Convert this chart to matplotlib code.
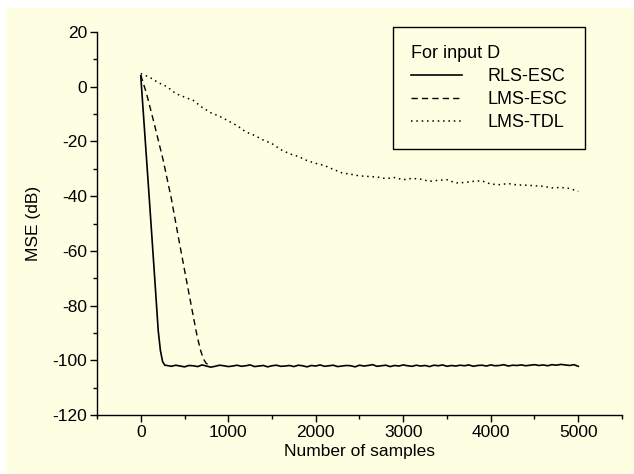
import numpy as np
import matplotlib
matplotlib.use("Agg")
import matplotlib.pyplot as plt
from matplotlib.patches import Rectangle
from matplotlib.ticker import MultipleLocator

plt.rcParams['font.family'] = ['Liberation Sans', 'DejaVu Sans']
plt.rcParams['axes.unicode_minus'] = False

# RLS-ESC: fast drop, then noisy floor
rls_x = [0, 50, 100, 150, 200, 225, 250, 275] + list(range(300, 5001, 50))
rls_db = [4.0, -19.0, -42.0, -65.5, -89.3, -96.5, -100.5, -101.8,
          -101.9, -102.2, -101.8, -102.1, -102.4, -101.9, -102.0, -102.3, -101.7, -102.1,
          -102.5, -102.2, -101.8, -102.0, -102.3, -102.1, -101.8, -102.2, -102.0, -101.7,
          -102.3, -102.1, -101.9, -102.4, -102.0, -101.8, -102.2, -102.1, -101.9, -102.3,
          -101.8, -102.0, -102.4, -101.9, -102.1, -101.7, -102.2, -102.0, -101.8, -102.3,
          -102.1, -101.9, -102.0, -102.4, -101.8, -102.1, -101.9, -101.6, -102.2, -102.0,
          -101.8, -102.3, -101.9, -102.1, -101.7, -102.0, -102.2, -101.8, -102.1, -101.9,
          -102.3, -101.8, -102.0, -101.7, -102.2, -101.9, -102.1, -101.8, -102.0, -101.7,
          -102.2, -101.9, -101.8, -102.1, -101.7, -102.0, -101.9, -101.6, -102.1, -101.8,
          -101.9, -101.7, -102.0, -101.8, -101.6, -101.9, -101.7, -102.0, -101.6, -101.8,
          -101.5, -101.7, -101.9, -101.6, -102.2]

# LMS-ESC
lms_esc_x = [0, 65, 150, 256, 350, 429, 506, 583, 640, 680, 716, 745, 780]
lms_esc_db = [4.3, -2.4, -13.0, -26.8, -41.0, -54.8, -68.0, -81.0, -90.5, -96.0,
              -99.5, -101.0, -101.9]

# LMS-TDL
tdl_x = list(range(0, 5001, 100))
tdl_db = [4.8, 3.5, 1.5, 0.0, -2.5, -3.8, -5.0, -7.5, -9.5, -10.8,
          -12.5, -14.2, -16.5, -17.8, -19.5, -20.8, -23.0, -24.5, -25.5, -27.0,
          -28.0, -28.8, -30.2, -31.5, -32.0, -32.6, -32.8, -33.0, -33.6, -33.2,
          -34.0, -33.5, -33.8, -34.6, -34.2, -34.0, -35.2, -35.0, -34.6, -34.4,
          -35.6, -35.8, -35.4, -35.9, -36.0, -36.2, -36.4, -37.0, -36.8, -37.2,
          -38.3]

bg = '#fefee3'

fig = plt.figure(figsize=(6.34, 4.74), dpi=100, facecolor='white')
fig.patches.append(Rectangle((6 / 634, 0), 1 - 6 / 634, 1 - 8 / 474,
                             transform=fig.transFigure, facecolor=bg,
                             edgecolor='none', zorder=-10))

ax = fig.add_axes([97 / 634, 1 - 415 / 474, (622 - 97) / 634, (415 - 32) / 474])
ax.set_facecolor('none')

ax.plot(rls_x, rls_db, color='black', lw=1.2, label='RLS-ESC')
ax.plot(lms_esc_x, lms_esc_db, color='black', lw=1.0, dashes=(4.5, 3), label='LMS-ESC')
ax.plot(tdl_x, tdl_db, color='black', lw=1.1, dashes=(1, 2.5), label='LMS-TDL')

ax.set_xlim(-500, 5500)
ax.set_ylim(-120, 20)
ax.xaxis.set_major_locator(MultipleLocator(1000))
ax.xaxis.set_minor_locator(MultipleLocator(500))
ax.yaxis.set_major_locator(MultipleLocator(20))
ax.yaxis.set_minor_locator(MultipleLocator(10))

for s in ['top', 'right']:
    ax.spines[s].set_visible(False)
for s in ['left', 'bottom']:
    ax.spines[s].set_linewidth(1.0)

ax.tick_params(which='major', length=5, width=1, labelsize=12.5, pad=2)
ax.tick_params(which='minor', length=3, width=1)

ax.set_xlabel('Number of samples', fontsize=12.5, labelpad=3)
ax.set_ylabel('MSE (dB)', fontsize=12.5, labelpad=8)

leg = ax.legend(title='For input D', loc='upper right',
                bbox_to_anchor=(585 / 634, 1 - 27 / 474), bbox_transform=fig.transFigure,
                borderaxespad=0, fancybox=False, framealpha=1, facecolor=bg,
                edgecolor='black', fontsize=13, title_fontsize=13,
                handlelength=2.8, handletextpad=1.4, labelspacing=0.33,
                alignment='left', borderpad=1.0)
leg.get_frame().set_linewidth(1.0)

fig.savefig('out.png', dpi=100, facecolor='white')
